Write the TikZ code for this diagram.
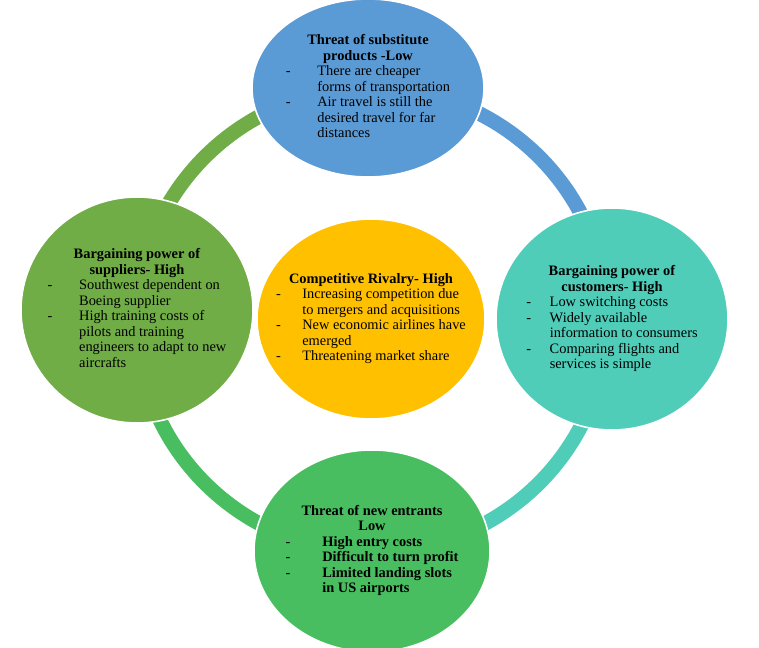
\documentclass[tikz,border=0pt]{standalone}
\usepackage{fontspec}
\setmainfont{Liberation Serif}
\usetikzlibrary{shapes.geometric}
\definecolor{topblue}{HTML}{5B9BD5}
\definecolor{leftgreen}{HTML}{70AD47}
\definecolor{rightteal}{HTML}{50CDB9}
\definecolor{botgreen}{HTML}{48BE60}
\definecolor{midgold}{HTML}{FFC000}
\newcommand{\blt}[1]{-&#1\\}
\begin{document}
\begin{tikzpicture}[x=0.75pt,y=-0.75pt,
    force/.style={ellipse, draw=white, line width=1.2pt, inner sep=0pt},
    label/.style={inner sep=0pt, font=\fontsize{10.8}{11.6}\selectfont, text=black},
    band/.style={line width=11pt}]
    \useasboundingbox (0,0) rectangle (759,648);
    % ring behind the circles
    \draw [band, leftgreen] (372,320) ++(180:235 and 232) arc (180:270:235 and 232);
    \draw [band, topblue] (372,320) ++(270:235 and 232) arc (270:360:235 and 232);
    \draw [band, rightteal] (372,320) ++(0:235 and 232) arc (0:90:235 and 232);
    \draw [band, botgreen] (372,320) ++(90:235 and 232) arc (90:180:235 and 232);

    % circles
    \node [force, fill=topblue, minimum width=232pt*0.75, minimum height=178pt*0.75] (sub) at (368,88) {};
    \node [force, fill=leftgreen, minimum width=232pt*0.75, minimum height=226pt*0.75] (sup) at (137,310) {};
    \node [force, fill=rightteal, minimum width=232pt*0.75, minimum height=222pt*0.75] (cus) at (612,319) {};
    \node [force, fill=botgreen, minimum width=236pt*0.75, minimum height=202pt*0.75] (ent) at (372,551) {};
    \node [force, fill=midgold, minimum width=228pt*0.75, minimum height=200pt*0.75] (riv) at (371,319) {};

    % texts
    \node [label] (subtext) at (sub) {%
      \begin{tabular}{@{}l@{\hspace{20pt}}l@{}}
        \multicolumn{2}{c}{\textbf{Threat of substitute}}\\
        \multicolumn{2}{c}{\textbf{products -Low}}\\
        \blt{There are cheaper}
        &forms of transportation\\
        \blt{Air travel is still the}
        &desired travel for far\\
        &distances\\
      \end{tabular}};
    \node [label] (suptext) at (sup) {%
      \begin{tabular}{@{}l@{\hspace{20pt}}l@{}}
        \multicolumn{2}{c}{\textbf{Bargaining power of}}\\
        \multicolumn{2}{c}{\textbf{suppliers- High}}\\
        \blt{Southwest dependent on}
        &Boeing supplier\\
        \blt{High training costs of}
        &pilots and training\\
        &engineers to adapt to new\\
        &aircrafts\\
      \end{tabular}};
    \node [label] (custext) at (cus) {%
      \begin{tabular}{@{}l@{\hspace{14pt}}l@{}}
        \multicolumn{2}{c}{\textbf{Bargaining power of}}\\
        \multicolumn{2}{c}{\textbf{customers- High}}\\
        \blt{Low switching costs}
        \blt{Widely available}
        &information to consumers\\
        \blt{Comparing flights and}
        &services is simple\\
      \end{tabular}};
    \node [label] (enttext) at (ent) {%
      \begin{tabular}{@{}l@{\hspace{24pt}}l@{}}
        \multicolumn{2}{c}{\textbf{Threat of new entrants}}\\
        \multicolumn{2}{c}{\textbf{Low}}\\
        \blt{\textbf{High entry costs}}
        \blt{\textbf{Difficult to turn profit}}
        \blt{\textbf{Limited landing slots}}
        &\textbf{in US airports}\\
      \end{tabular}};
    \node [label] (rivtext) at (riv) {%
      \begin{tabular}{@{}l@{\hspace{16pt}}l@{}}
        \multicolumn{2}{c}{\textbf{Competitive Rivalry- High}}\\
        \blt{Increasing competition due}
        &to mergers and acquisitions\\
        \blt{New economic airlines have}
        &emerged\\
        \blt{Threatening market share}
      \end{tabular}};
\end{tikzpicture}
\end{document}
